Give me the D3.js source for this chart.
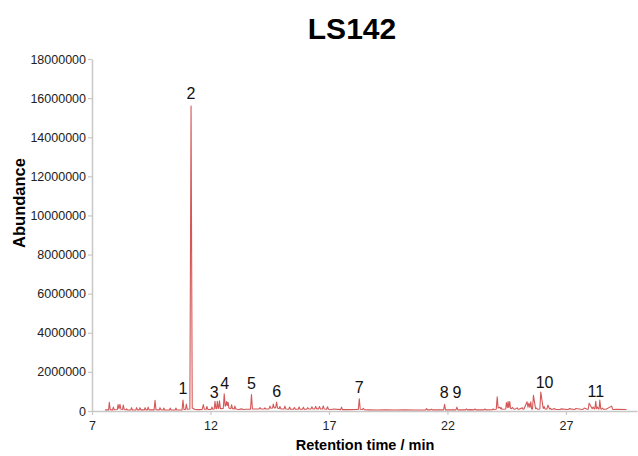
<!DOCTYPE html>
<html><head><meta charset="utf-8">
<script src="https://cdn.jsdelivr.net/npm/d3@7"></script>
<style>body{margin:0;background:#fff}svg{display:block}text{font-family:"Liberation Sans",Arial,sans-serif}</style>
</head><body><div id="chart"></div>
<script>
// Retention time (min) and abundance
const rt = [7.55,7.70,7.73,7.77,7.87,7.90,7.94,8.07,8.10,8.14,8.18,8.22,8.29,8.32,8.36,8.43,8.46,8.50,8.64,8.67,8.71,8.85,8.88,8.92,8.99,9.02,9.06,9.21,9.24,9.28,9.34,9.37,9.41,9.62,9.66,9.70,9.84,9.87,9.91,10.00,10.03,10.07,10.27,10.30,10.34,10.51,10.54,10.58,10.80,10.84,10.88,10.95,10.98,11.02,11.13,11.18,11.23,11.35,11.50,11.65,11.70,11.74,11.82,11.85,11.89,12.02,12.06,12.10,12.16,12.19,12.23,12.26,12.29,12.33,12.35,12.38,12.42,12.54,12.58,12.62,12.65,12.68,12.71,12.74,12.78,12.86,12.89,12.93,13.00,13.03,13.07,13.20,13.30,13.40,13.50,13.69,13.73,13.77,13.85,14.05,14.09,14.13,14.26,14.30,14.34,14.47,14.51,14.55,14.62,14.65,14.69,14.75,14.79,14.83,14.90,14.93,14.97,15.10,15.14,15.18,15.30,15.34,15.38,15.50,15.54,15.58,15.70,15.74,15.78,15.88,15.92,15.96,16.06,16.10,16.14,16.24,16.28,16.32,16.40,16.44,16.48,16.56,16.60,16.64,16.72,16.76,16.80,16.90,16.94,16.98,17.10,17.20,17.49,17.53,17.57,17.80,18.24,18.28,18.32,18.41,18.45,18.49,18.70,19.00,19.40,19.80,20.20,20.60,21.08,21.12,21.16,21.29,21.33,21.37,21.84,21.88,21.92,22.36,22.40,22.44,22.76,22.80,22.84,22.95,23.12,23.16,23.20,23.54,23.58,23.62,23.90,23.93,23.97,24.06,24.10,24.14,24.20,24.24,24.27,24.30,24.46,24.49,24.53,24.56,24.59,24.63,24.66,24.70,24.74,24.80,24.84,24.95,24.98,25.02,25.16,25.19,25.23,25.36,25.40,25.44,25.48,25.52,25.55,25.59,25.63,25.72,25.76,25.80,25.90,25.94,26.04,26.08,26.12,26.20,26.24,26.31,26.35,26.39,26.53,26.57,26.75,26.79,27.06,27.10,27.14,27.35,27.38,27.42,27.70,27.73,27.77,27.90,27.94,27.98,28.11,28.15,28.19,28.22,28.26,28.29,28.33,28.37,28.40,28.43,28.47,28.51,28.55,28.59,28.69,28.93,28.97,29.01,29.14,29.56,30.00];
const abundance = [60000,60000,450000,70000,60000,200000,60000,80000,330000,120000,340000,90000,80000,300000,80000,60000,110000,50000,60000,170000,50000,60000,170000,60000,60000,170000,60000,60000,170000,60000,60000,200000,60000,60000,550000,70000,60000,170000,60000,50000,150000,50000,50000,150000,50000,50000,150000,50000,60000,560000,80000,80000,350000,90000,100000,15600000,150000,80000,70000,80000,330000,90000,90000,230000,80000,80000,200000,90000,100000,500000,120000,120000,500000,130000,150000,520000,120000,130000,880000,250000,300000,480000,280000,450000,150000,120000,320000,120000,100000,250000,100000,80000,110000,80000,90000,90000,840000,110000,100000,100000,170000,100000,100000,160000,100000,110000,250000,140000,150000,350000,160000,170000,460000,150000,120000,230000,110000,100000,250000,100000,90000,200000,90000,90000,180000,90000,90000,210000,90000,90000,190000,90000,90000,170000,100000,100000,220000,110000,100000,240000,110000,110000,230000,100000,100000,260000,100000,90000,220000,90000,80000,100000,70000,200000,70000,70000,80000,630000,90000,80000,140000,70000,60000,50000,60000,50000,60000,50000,60000,120000,60000,60000,90000,60000,60000,340000,60000,60000,200000,60000,60000,110000,60000,70000,60000,100000,60000,60000,100000,60000,70000,110000,80000,90000,720000,150000,200000,120000,170000,90000,100000,430000,180000,480000,170000,480000,140000,120000,180000,100000,90000,160000,90000,90000,160000,90000,100000,470000,200000,400000,180000,470000,110000,100000,800000,120000,150000,90000,100000,970000,130000,230000,100000,100000,300000,100000,140000,80000,120000,80000,80000,110000,80000,80000,120000,80000,80000,130000,80000,90000,150000,90000,90000,400000,120000,200000,120000,110000,500000,120000,200000,100000,110000,560000,110000,90000,150000,90000,90000,250000,90000,80000,90000,80000];
const yTicks = [0,2000000,4000000,6000000,8000000,10000000,12000000,14000000,16000000,18000000];
const xTicks = [7,12,17,22,27];
// Peak numbers and where they sit (retention time, abundance at label baseline)
const peakLabels = ["1","2","3","4","5","6","7","8","9","10","11"];
const peakLabelRT = [10.84,11.18,12.16,12.60,13.73,14.79,18.28,21.86,22.40,26.10,28.26];
const peakLabelAb = [870000,15950000,690000,1130000,1130000,730000,930000,690000,690000,1200000,700000];

const W = 638, H = 456;
const svg = d3.select("#chart").append("svg").attr("width", W).attr("height", H);
const x = d3.scaleLinear().domain([7, 30]).range([92, 637]);
const y = d3.scaleLinear().domain([0, 18000000]).range([411, 59]);

const axisColor = "#c8c8c8";
const gx = svg.append("g").attr("transform", "translate(0,411)")
  .call(d3.axisBottom(x).tickValues(xTicks).tickSize(4).tickPadding(6).tickSizeOuter(0).tickFormat(d3.format("d")));
const gy = svg.append("g").attr("transform", "translate(92,0)")
  .call(d3.axisLeft(y).tickValues(yTicks).tickSize(4).tickPadding(2).tickSizeOuter(0).tickFormat(d3.format("d")));
[gx, gy].forEach(g => {
  g.select(".domain").attr("stroke", axisColor).attr("stroke-width", 1.5);
  g.selectAll(".tick line").attr("stroke", axisColor).attr("stroke-width", 1.2);
  g.selectAll(".tick text").attr("fill", "#222").style("font-size", "12.5px").style("font-family", "'Liberation Sans', Arial, sans-serif");
});

const pts = rt.map((t, i) => [t, abundance[i]]);
svg.append("path").datum(pts)
  .attr("fill", "none").attr("stroke", "#d55858").attr("stroke-width", 1.1)
  .attr("stroke-linejoin", "round")
  .attr("d", d3.line().x(d => x(d[0])).y(d => y(d[1])));

svg.selectAll(".pl").data(peakLabels).enter().append("text")
  .attr("x", (d, i) => x(peakLabelRT[i])).attr("y", (d, i) => y(peakLabelAb[i]))
  .attr("text-anchor", "middle").style("font-size", "16px").attr("fill", "#111").text(d => d);

svg.append("text").attr("x", 352).attr("y", 39).attr("text-anchor", "middle")
  .style("font-size", "30px").style("font-weight", "bold").text("LS142");
svg.append("text").attr("x", 365).attr("y", 450).attr("text-anchor", "middle")
  .style("font-size", "14.5px").style("font-weight", "bold").text("Retention time / min");
svg.append("text").attr("transform", "translate(25,203) rotate(-90)").attr("text-anchor", "middle")
  .style("font-size", "16.5px").style("font-weight", "bold").text("Abundance");
</script></body></html>
